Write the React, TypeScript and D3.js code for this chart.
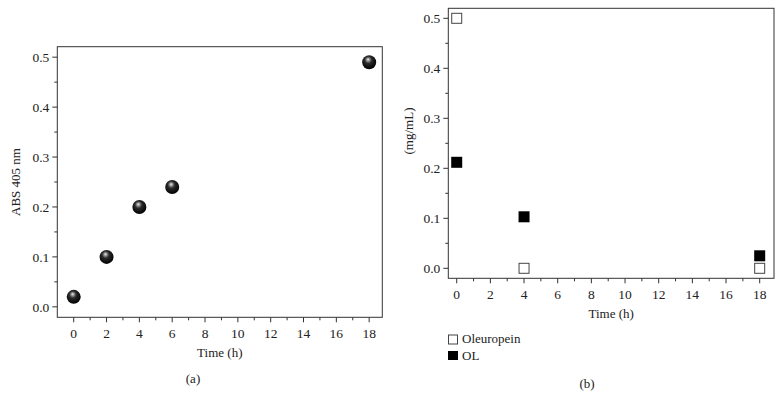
import React from "react";
import * as d3 from "d3";

// Panel (a)
const timeA = [0, 2, 4, 6, 18];
const absA = [0.02, 0.1, 0.2, 0.24, 0.49];

// Panel (b)
const timeB = [0, 4, 18];
const oleuropein = [0.5, 0.0, 0.0];
const olValues = [0.212, 0.103, 0.025];

const xTicks = [0, 2, 4, 6, 8, 10, 12, 14, 16, 18];
const xMinor = [1, 3, 5, 7, 9, 11, 13, 15, 17];
const yTicks = [0, 0.1, 0.2, 0.3, 0.4, 0.5];
const yMinor = [0.05, 0.15, 0.25, 0.35, 0.45];

const FONT = "'Liberation Serif', serif";
const AXIS = "#333";
const TICK_FS = 13.5;

type PanelProps = {
  x: d3.ScaleLinear<number, number>;
  y: d3.ScaleLinear<number, number>;
  yLabel: string;
  yLabelX: number;
  yLabelY: number;
  xLabelY: number;
  xTickY: number;
  children?: React.ReactNode;
};

function Panel({ x, y, yLabel, yLabelX, yLabelY, xLabelY, xTickY, children }: PanelProps) {
  const [x0, x1] = x.range();
  const [y0, y1] = y.range(); // y0 bottom, y1 top
  return (
    <g>
      <rect x={x0} y={y1} width={x1 - x0} height={y0 - y1} fill="none" stroke={AXIS} strokeWidth={1} />
      {yTicks.map((t) => (
        <g key={"y" + t}>
          <line x1={x0 - 5} x2={x0} y1={y(t)} y2={y(t)} stroke={AXIS} />
          <text x={x0 - 8} y={y(t)} dy="0.35em" textAnchor="end" fontSize={TICK_FS} fontFamily={FONT} fill="#222">
            {d3.format(".1f")(t)}
          </text>
        </g>
      ))}
      {yMinor.map((t) => (
        <line key={"ym" + t} x1={x0 - 3} x2={x0} y1={y(t)} y2={y(t)} stroke={AXIS} />
      ))}
      {xTicks.map((t) => (
        <g key={"x" + t}>
          <line x1={x(t)} x2={x(t)} y1={y0} y2={y0 + 5} stroke={AXIS} />
          <text x={x(t)} y={xTickY} textAnchor="middle" fontSize={TICK_FS} fontFamily={FONT} fill="#222">
            {t}
          </text>
        </g>
      ))}
      {xMinor.map((t) => (
        <line key={"xm" + t} x1={x(t)} x2={x(t)} y1={y0} y2={y0 + 3} stroke={AXIS} />
      ))}
      <text x={(x0 + x1) / 2} y={xLabelY} textAnchor="middle" fontSize={13} fontFamily={FONT} fill="#222">
        Time (h)
      </text>
      <text
        transform={`translate(${yLabelX},${yLabelY}) rotate(-90)`}
        textAnchor="middle"
        dy="0.35em"
        fontSize={13}
        fontFamily={FONT}
        fill="#222"
      >
        {yLabel}
      </text>
      {children}
    </g>
  );
}

export default function App() {
  const xa = d3.scaleLinear().domain([-1.0, 18.8]).range([57.3, 382.3]);
  const ya = d3.scaleLinear().domain([-0.021, 0.521]).range([317.3, 46.7]);
  const xb = d3.scaleLinear().domain([-0.5, 18.85]).range([448.3, 774]);
  const yb = d3.scaleLinear().domain([-0.02, 0.52]).range([278.3, 8.3]);

  const sq = 11;

  return (
    <svg width={782} height={406} style={{ position: "absolute", left: 0, top: 0 }}>
      <defs>
        <radialGradient id="ball" cx="0.45" cy="0.4" r="0.6" fx="0.42" fy="0.3">
          <stop offset="0%" stopColor="#f5f5f5" />
          <stop offset="15%" stopColor="#a0a0a0" />
          <stop offset="42%" stopColor="#2a2a2a" />
          <stop offset="100%" stopColor="#000" />
        </radialGradient>
      </defs>
      <rect width={782} height={406} fill="#fff" />

      <Panel x={xa} y={ya} yLabel="ABS 405 nm" yLabelX={15} yLabelY={182} xLabelY={357} xTickY={338}>
        {timeA.map((t, i) => (
          <circle key={i} cx={xa(t)} cy={ya(absA[i])} r={7} fill="url(#ball)" />
        ))}
      </Panel>
      <text x={193} y={383} textAnchor="middle" fontSize={13} fontFamily={FONT} fill="#222">
        (a)
      </text>

      <Panel x={xb} y={yb} yLabel="(mg/mL)" yLabelX={408} yLabelY={131} xLabelY={318} xTickY={299}>
        {timeB.map((t, i) => (
          <rect
            key={"o" + i}
            x={xb(t) - (sq - 1) / 2}
            y={yb(oleuropein[i]) - (sq - 1) / 2}
            width={sq - 1}
            height={sq - 1}
            fill="#fff"
            stroke="#444"
            strokeWidth={1}
          />
        ))}
        {timeB.map((t, i) => (
          <rect key={"f" + i} x={xb(t) - sq / 2} y={yb(olValues[i]) - sq / 2} width={sq} height={sq} fill="#000" />
        ))}
      </Panel>

      {/* Legend */}
      <rect x={448.5} y={335} width={9} height={9} fill="#fff" stroke="#444" />
      <text x={462} y={343} fontSize={13} fontFamily={FONT} fill="#222">
        Oleuropein
      </text>
      <rect x={448} y={351} width={10} height={9} fill="#000" />
      <text x={462} y={359.5} fontSize={13} fontFamily={FONT} fill="#222">
        OL
      </text>
      <text x={587} y={388} textAnchor="middle" fontSize={13} fontFamily={FONT} fill="#222">
        (b)
      </text>
    </svg>
  );
}
